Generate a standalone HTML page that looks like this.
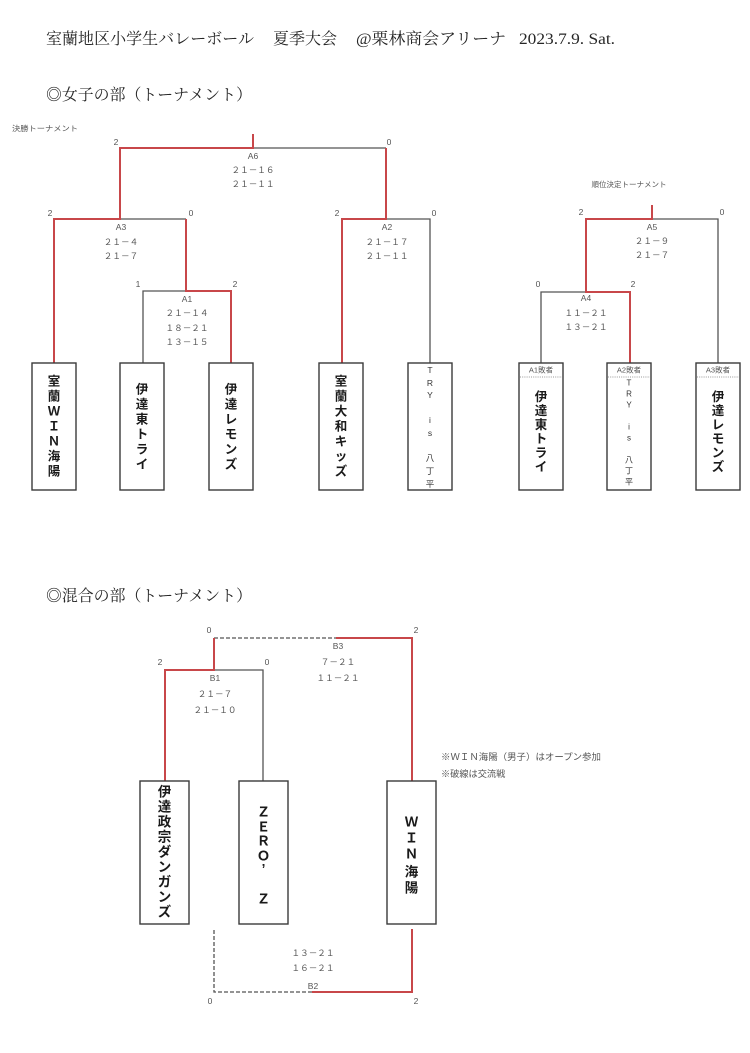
<!DOCTYPE html>
<html><head><meta charset="utf-8"><style>
html,body{margin:0;padding:0;background:#fff;}
svg{display:block;}
.s{font-family:"Liberation Sans","Noto Sans CJK JP",sans-serif;fill:#555;font-size:8.5px;}
.sc{font-family:"Noto Sans CJK JP","Liberation Sans",sans-serif;fill:#555;font-size:8.6px;}
.h{font-family:"Liberation Serif","Noto Serif CJK SC",serif;fill:#262626;font-size:16px;}
.b{font-family:"Liberation Sans","Noto Sans CJK JP",sans-serif;fill:#1a1a1a;font-weight:700;font-size:12.5px;}
.bm{font-family:"Liberation Sans","Noto Sans CJK JP",sans-serif;fill:#1a1a1a;font-weight:700;font-size:13.5px;}
.t{font-family:"Liberation Sans","Noto Sans CJK JP",sans-serif;fill:#333;font-size:8.5px;}
</style></head><body>
<svg width="750" height="1053" viewBox="0 0 750 1053" xmlns="http://www.w3.org/2000/svg">
<rect width="750" height="1053" fill="#fff"/>

<!-- Headers -->
<text class="h" x="46" y="44" textLength="208" lengthAdjust="spacingAndGlyphs">室蘭地区小学生バレーボール</text>
<text class="h" x="273" y="44" textLength="64" lengthAdjust="spacingAndGlyphs">夏季大会</text>
<text class="h" x="356" y="44" textLength="150" lengthAdjust="spacingAndGlyphs">@栗林商会アリーナ</text>
<text class="h" x="519" y="44" textLength="96" lengthAdjust="spacingAndGlyphs">2023.7.9. Sat.</text>
<text class="h" x="46" y="100" textLength="206" lengthAdjust="spacingAndGlyphs">◎女子の部（トーナメント）</text>
<text class="h" x="46" y="601" textLength="206" lengthAdjust="spacingAndGlyphs">◎混合の部（トーナメント）</text>

<text class="s" x="12" y="131" style="font-size:7.5px" textLength="66" lengthAdjust="spacingAndGlyphs">決勝トーナメント</text>
<text class="s" x="629" y="187" text-anchor="middle" style="font-size:7.5px">順位決定トーナメント</text>

<!-- gray lines -->
<g stroke="#555" stroke-width="1.3" fill="none">
<path d="M253 148 H386"/>
<path d="M120 219 H186"/>
<path d="M143 363 V291 H186"/>
<path d="M386 219 H430 V363"/>
<path d="M652 219 H718 V363"/>
<path d="M541 363 V292 H586"/>
<path d="M214 670 H263 V781"/>
<path d="M214 638 H336" stroke-dasharray="4 2"/>
<path d="M214 930 V992 H312" stroke-dasharray="4 2"/>
</g>
<!-- red lines -->
<g stroke="#c8474a" stroke-width="2" fill="none">
<path d="M253 134 V148 H120 V219 H54 V363"/>
<path d="M186 219 V291 H231 V363"/>
<path d="M386 148 V219 H342 V363"/>
<path d="M652 205 V219 H586 V292 H630 V363"/>
<path d="M336 638 H412 V781"/>
<path d="M214 638 V670 H165 V781"/>
<path d="M412 929 V992 H312"/>
</g>

<!-- match labels top -->
<g class="s" text-anchor="middle" dominant-baseline="central">
<text x="116" y="142">2</text><text x="389" y="142">0</text>
<text x="253" y="156">A6</text>
<text x="50" y="213">2</text><text x="191" y="213">0</text>
<text x="121" y="227">A3</text>
<text x="337" y="213">2</text><text x="434" y="213">0</text>
<text x="387" y="227">A2</text>
<text x="138" y="284">1</text><text x="235" y="284">2</text>
<text x="187" y="299">A1</text>
<text x="581" y="212">2</text><text x="722" y="212">0</text>
<text x="652" y="227">A5</text>
<text x="538" y="284">0</text><text x="633" y="284">2</text>
<text x="586" y="298">A4</text>
<text x="209" y="630">0</text><text x="416" y="630">2</text>
<text x="338" y="646">B3</text>
<text x="160" y="662">2</text><text x="267" y="662">0</text>
<text x="215" y="678">B1</text>
<text x="313" y="986">B2</text>
<text x="210" y="1001">0</text><text x="416" y="1001">2</text>
</g>
<g class="sc" text-anchor="middle" dominant-baseline="central">
<text x="253" y="170">２１－１６</text>
<text x="253" y="184">２１－１１</text>
<text x="121" y="242">２１－４</text>
<text x="121" y="256">２１－７</text>
<text x="387" y="242">２１－１７</text>
<text x="387" y="256">２１－１１</text>
<text x="187" y="313">２１－１４</text>
<text x="187" y="328">１８－２１</text>
<text x="187" y="342">１３－１５</text>
<text x="652" y="241">２１－９</text>
<text x="652" y="255">２１－７</text>
<text x="586" y="313">１１－２１</text>
<text x="586" y="327">１３－２１</text>
<text x="338" y="662">７－２１</text>
<text x="338" y="678">１１－２１</text>
<text x="215" y="694">２１－７</text>
<text x="215" y="710">２１－１０</text>
<text x="313" y="953">１３－２１</text>
<text x="313" y="968">１６－２１</text>
</g>

<!-- notes -->
<text class="sc" x="441" y="760" style="font-size:9.2px" textLength="160" lengthAdjust="spacingAndGlyphs">※ＷＩＮ海陽（男子）はオープン参加</text>
<text class="sc" x="441" y="777" style="font-size:9.2px">※破線は交流戦</text>

<!-- boxes -->
<g fill="#fff" stroke="#3a3a3a" stroke-width="1.4">
<rect x="32" y="363" width="44" height="127"/>
<rect x="120" y="363" width="44" height="127"/>
<rect x="209" y="363" width="44" height="127"/>
<rect x="319" y="363" width="44" height="127"/>
<rect x="408" y="363" width="44" height="127"/>
<rect x="519" y="363" width="44" height="127"/>
<rect x="607" y="363" width="44" height="127"/>
<rect x="696" y="363" width="44" height="127"/>
<rect x="140" y="781" width="49" height="143"/>
<rect x="239" y="781" width="49" height="143"/>
<rect x="387" y="781" width="49" height="143"/>
</g>
<g stroke="#777" stroke-width="0.8" stroke-dasharray="1 1.2">
<path d="M520 377 H562"/>
<path d="M608 377 H650"/>
<path d="M697 377 H739"/>
</g>
<g class="s" text-anchor="middle" dominant-baseline="central" style="font-size:7.5px">
<text x="541" y="370">A1敗者</text>
<text x="629" y="370">A2敗者</text>
<text x="718" y="370">A3敗者</text>
</g>

<!-- box texts -->
<g class="b" text-anchor="middle" dominant-baseline="central">
<text x="54" y="381.5">室</text><text x="54" y="396.5">蘭</text><text x="54" y="411.5">Ｗ</text><text x="54" y="426.5">Ｉ</text><text x="54" y="441.5">Ｎ</text><text x="54" y="456.5">海</text><text x="54" y="471.5">陽</text>
<text x="142" y="389.5">伊</text><text x="142" y="404.5">達</text><text x="142" y="419.5">東</text><text x="142" y="434.5">ト</text><text x="142" y="449.5">ラ</text><text x="142" y="464.5">イ</text>
<text x="231" y="389.5">伊</text><text x="231" y="404.5">達</text><text x="231" y="419.5">レ</text><text x="231" y="434.5">モ</text><text x="231" y="449.5">ン</text><text x="231" y="464.5">ズ</text>
<text x="341" y="381.5">室</text><text x="341" y="396.5">蘭</text><text x="341" y="411.5">大</text><text x="341" y="426.5">和</text><text x="341" y="441.5">キ</text><text x="341" y="456.5">ッ</text><text x="341" y="471.5">ズ</text>
<text x="541" y="397">伊</text><text x="541" y="411">達</text><text x="541" y="425">東</text><text x="541" y="439">ト</text><text x="541" y="453">ラ</text><text x="541" y="467">イ</text>
<text x="718" y="397">伊</text><text x="718" y="411">達</text><text x="718" y="425">レ</text><text x="718" y="439">モ</text><text x="718" y="453">ン</text><text x="718" y="467">ズ</text>
</g>
<g class="t" text-anchor="middle" dominant-baseline="central">
<text x="430" y="370">T</text><text x="430" y="383">R</text><text x="430" y="395">Y</text><text x="430" y="420">i</text><text x="430" y="433">s</text><text x="430" y="458">八</text><text x="430" y="471">丁</text><text x="430" y="484">平</text>
<text x="629" y="383" style="font-size:8px">T</text><text x="629" y="394" style="font-size:8px">R</text><text x="629" y="405" style="font-size:8px">Y</text><text x="629" y="427" style="font-size:8px">i</text><text x="629" y="438" style="font-size:8px">s</text><text x="629" y="460" style="font-size:8px">八</text><text x="629" y="471" style="font-size:8px">丁</text><text x="629" y="482" style="font-size:8px">平</text>
</g>
<g class="bm" text-anchor="middle" dominant-baseline="central">
<text x="164.5" y="792">伊</text><text x="164.5" y="807">達</text><text x="164.5" y="822">政</text><text x="164.5" y="837">宗</text><text x="164.5" y="852">ダ</text><text x="164.5" y="867">ン</text><text x="164.5" y="882">ガ</text><text x="164.5" y="897">ン</text><text x="164.5" y="912">ズ</text>
<text x="263.5" y="812">Ｚ</text><text x="263.5" y="827">Ｅ</text><text x="263.5" y="841">Ｒ</text><text x="263.5" y="856">Ｏ</text><text x="263.5" y="869">’</text><text x="263.5" y="899">Ｚ</text>
<text x="411.5" y="822">Ｗ</text><text x="411.5" y="838">Ｉ</text><text x="411.5" y="854">Ｎ</text><text x="411.5" y="872">海</text><text x="411.5" y="888">陽</text>
</g>
</svg>
</body></html>
